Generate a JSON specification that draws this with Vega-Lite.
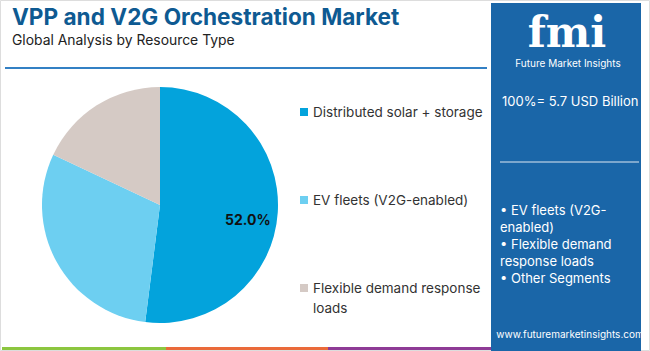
{
  "$schema": "https://vega.github.io/schema/vega-lite/v6.json",
  "width": 310,
  "height": 272,
  "autosize": {"type": "none"},
  "padding": {"left": 5, "top": 69, "right": 335, "bottom": 10},
  "background": "#ffffff",
  "config": {"view": {"stroke": null}, "font": "Inter"},
  "data": {"values": [
    {"segment": "Distributed solar + storage", "share": 0.52},
    {"segment": "EV fleets (V2G-enabled)", "share": 0.30},
    {"segment": "Flexible demand response loads", "share": 0.18}
  ]},
  "layer": [
    {
      "data": {"values": [{}]},
      "mark": {"type": "rect", "fillOpacity": 0, "stroke": "#dddddd", "strokeWidth": 1},
      "encoding": {"x": {"value": -4.5}, "x2": {"value": 644.5}, "y": {"value": -68.5}, "y2": {"value": 281.5}}
    },
    {
      "data": {"values": [{}]},
      "mark": {"type": "rect", "fill": "#1a66a8"},
      "encoding": {"x": {"value": 486}, "x2": {"value": 636}, "y": {"value": -66}, "y2": {"value": 282}}
    },
    {
      "data": {"values": [{}]},
      "mark": {"type": "rule", "stroke": "#8cc63f", "strokeWidth": 3},
      "encoding": {"x": {"value": -3}, "x2": {"value": 161}, "y": {"value": 279.5}}
    },
    {
      "data": {"values": [{}]},
      "mark": {"type": "rule", "stroke": "#ea6a3a", "strokeWidth": 3},
      "encoding": {"x": {"value": 161}, "x2": {"value": 323}, "y": {"value": 279.5}}
    },
    {
      "data": {"values": [{}]},
      "mark": {"type": "rule", "stroke": "#8e3b96", "strokeWidth": 3},
      "encoding": {"x": {"value": 323}, "x2": {"value": 486}, "y": {"value": 279.5}}
    },
    {
      "data": {"values": [{}]},
      "mark": {"type": "text", "text": "VPP and V2G Orchestration Market", "font": "Inter", "fontSize": 22.6, "fontWeight": "bold", "fill": "#0e5a92", "align": "left", "baseline": "alphabetic"},
      "encoding": {"x": {"value": 7}, "y": {"value": -44}}
    },
    {
      "data": {"values": [{}]},
      "mark": {"type": "text", "text": "Global Analysis by Resource Type", "font": "Inter", "fontSize": 13.9, "fill": "#222222", "align": "left", "baseline": "alphabetic"},
      "encoding": {"x": {"value": 7}, "y": {"value": -24}}
    },
    {
      "data": {"values": [{}]},
      "mark": {"type": "rule", "stroke": "#3380c4", "strokeWidth": 2},
      "encoding": {"x": {"value": 0}, "x2": {"value": 482}, "y": {"value": -1}}
    },
    {
      "mark": {"type": "arc", "outerRadius": 118},
      "encoding": {
        "theta": {"field": "share", "type": "quantitative", "stack": true},
        "order": {"field": "share", "type": "quantitative", "sort": "descending"},
        "color": {
          "field": "segment",
          "type": "nominal",
          "scale": {
            "domain": ["Distributed solar + storage", "EV fleets (V2G-enabled)", "Flexible demand response loads"],
            "range": ["#03a3dc", "#6dcff1", "#d5cac5"]
          },
          "legend": null
        }
      }
    },
    {
      "mark": {"type": "text", "radius": 88, "dy": 10, "font": "Inter", "fontSize": 14, "fontWeight": "bold", "fill": "#111111"},
      "encoding": {
        "theta": {"field": "share", "type": "quantitative", "stack": true},
        "order": {"field": "share", "type": "quantitative", "sort": "descending"},
        "detail": {"field": "segment", "type": "nominal"},
        "text": {
          "condition": {"test": "datum.segment === 'Distributed solar + storage'", "field": "share", "type": "quantitative", "format": ".1%"},
          "value": ""
        }
      }
    },
    {
      "mark": {"type": "square", "size": 64, "opacity": 1},
      "encoding": {
        "x": {"value": 299},
        "y": {
          "field": "segment",
          "type": "nominal",
          "sort": null,
          "scale": {
            "type": "point",
            "domain": ["Distributed solar + storage", "EV fleets (V2G-enabled)", "Flexible demand response loads"],
            "padding": 0.5455,
            "align": 0.448
          },
          "axis": null
        },
        "color": {"field": "segment", "type": "nominal", "legend": null}
      }
    },
    {
      "mark": {"type": "text", "align": "left", "baseline": "top", "dy": -6, "font": "Inter", "fontSize": 13.5, "fill": "#333333", "lineHeight": 20},
      "encoding": {
        "x": {"value": 308},
        "y": {"field": "segment", "type": "nominal", "sort": null, "axis": null},
        "text": {
          "condition": {"test": "datum.segment === 'Flexible demand response loads'", "value": ["Flexible demand response", "loads"]},
          "field": "segment",
          "type": "nominal"
        }
      }
    },
    {
      "data": {"values": [{}]},
      "mark": {"type": "text", "text": "fmi", "font": "DejaVu Serif", "fontSize": 42, "fontWeight": "bold", "fill": "#ffffff", "align": "center", "baseline": "alphabetic"},
      "encoding": {"x": {"value": 562}, "y": {"value": -22}}
    },
    {
      "data": {"values": [{}]},
      "mark": {"type": "text", "text": "Future Market Insights", "font": "Inter", "fontSize": 10, "fill": "#ffffff", "align": "center", "baseline": "middle"},
      "encoding": {"x": {"value": 563}, "y": {"value": -5}}
    },
    {
      "data": {"values": [{}]},
      "mark": {"type": "text", "text": "100%= 5.7 USD Billion", "font": "Inter", "fontSize": 13, "fill": "#ffffff", "align": "left", "baseline": "middle"},
      "encoding": {"x": {"value": 497}, "y": {"value": 33}}
    },
    {
      "data": {"values": [{}]},
      "mark": {"type": "rule", "stroke": "#dfe8f2", "strokeWidth": 1},
      "encoding": {"x": {"value": 495}, "x2": {"value": 634}, "y": {"value": 93}}
    },
    {
      "data": {"values": [{}]},
      "mark": {"type": "text", "text": ["• EV fleets (V2G-", "enabled)", "• Flexible demand", "response loads", "• Other Segments"], "font": "Inter", "fontSize": 13, "fill": "#ffffff", "align": "left", "baseline": "alphabetic", "lineHeight": 17.2},
      "encoding": {"x": {"value": 495}, "y": {"value": 145.5}}
    },
    {
      "data": {"values": [{}]},
      "mark": {"type": "text", "text": "www.futuremarketinsights.com", "font": "Inter", "fontSize": 10, "fill": "#ffffff", "align": "center", "baseline": "middle"},
      "encoding": {"x": {"value": 565}, "y": {"value": 266}}
    }
  ]
}
